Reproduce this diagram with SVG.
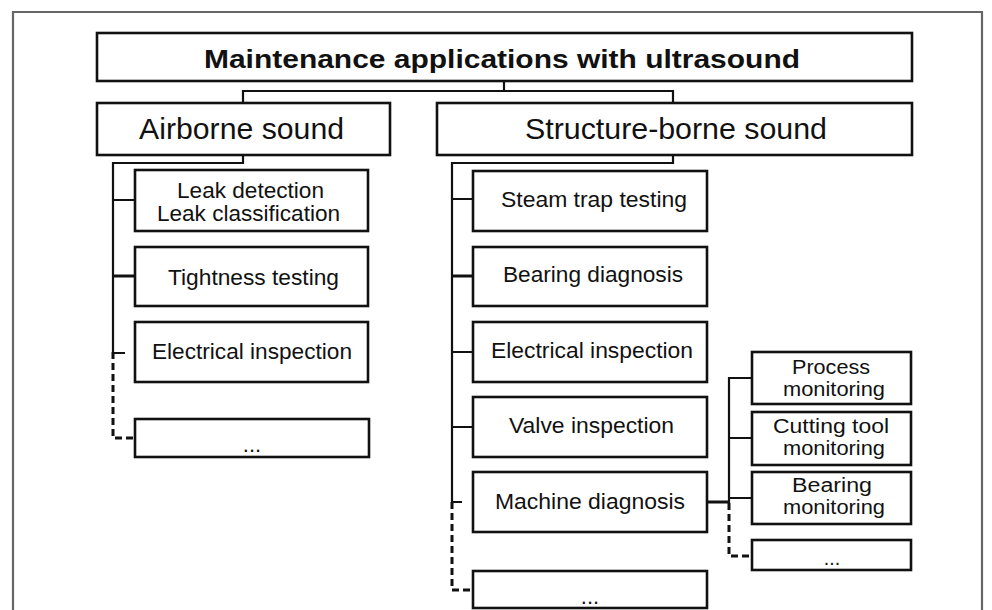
<svg xmlns="http://www.w3.org/2000/svg" width="992" height="610" viewBox="0 0 992 610">
<style>
.box{fill:#fff;stroke:#111;stroke-width:2.6}
.ln{fill:none;stroke:#111;stroke-width:2.2}
.thk{stroke-width:3}
.dash{fill:none;stroke:#111;stroke-width:3;stroke-dasharray:7,4}
text{font-family:"Liberation Sans",Arial,sans-serif;fill:#111;text-anchor:middle}
.t{font-size:22px}
.s{font-size:19.5px}
.h{font-size:29px}
.ttl{font-size:25px;font-weight:bold}
</style>
<rect width="992" height="610" fill="#fff"/>
<path d="M13,620 V12 H982 V620" fill="none" stroke="#666" stroke-width="2.2"/>
<g id="connectors">
<path class="ln" d="M504,81 V91 M243,103 V91 H673 V103"/>
<path class="ln" d="M243,155 V163 H113 V352"/>
<path class="ln" d="M113,200 H135 M113,353 H125"/>
<path class="ln thk" d="M113,276 H135"/>
<path class="dash" d="M113,352 V438 H135"/>
<path class="ln" d="M673,155 V163 H452 V502"/>
<path class="ln" d="M452,199 H473 M452,352 H473 M452,427 H473 M452,502 H462"/>
<path class="ln thk" d="M452,276 H473 M707,502 H729"/>
<path class="dash" d="M452,502 V590 H473"/>
<path class="ln" d="M729,503 V378 H752 M729,438 H752 M729,498 H752"/>
<path class="dash" d="M729,503 V556 H752"/>
</g>
<g id="title"><rect class="box" x="97" y="33" width="815" height="48"/><text class="ttl" x="502" y="68" textLength="596" lengthAdjust="spacingAndGlyphs">Maintenance applications with ultrasound</text></g>
<g id="airborne"><rect class="box" x="97" y="103" width="293" height="52"/><text class="h" x="241.5" y="139" textLength="205" lengthAdjust="spacingAndGlyphs">Airborne sound</text></g>
<g id="structure"><rect class="box" x="437" y="103" width="475" height="52"/><text class="h" x="676" y="139" textLength="302" lengthAdjust="spacingAndGlyphs">Structure-borne sound</text></g>
<g id="leak"><rect class="box" x="135" y="170" width="233" height="61"/><text class="t" x="250.5" y="198" textLength="147" lengthAdjust="spacingAndGlyphs">Leak detection</text><text class="t" x="248.5" y="221" textLength="183" lengthAdjust="spacingAndGlyphs">Leak classification</text></g>
<g id="tightness"><rect class="box" x="135" y="247" width="233" height="59"/><text class="t" x="253.5" y="285" textLength="171" lengthAdjust="spacingAndGlyphs">Tightness testing</text></g>
<g id="elec-air"><rect class="box" x="135" y="322" width="233" height="60"/><text class="t" x="252" y="359" textLength="200" lengthAdjust="spacingAndGlyphs">Electrical inspection</text></g>
<g id="more-air"><rect class="box" x="135" y="419" width="234" height="38"/><text class="t" x="252" y="452">...</text></g>
<g id="steam"><rect class="box" x="473" y="171" width="234" height="60"/><text class="t" x="594" y="207" textLength="186" lengthAdjust="spacingAndGlyphs">Steam trap testing</text></g>
<g id="bearing"><rect class="box" x="473" y="247" width="234" height="59"/><text class="t" x="593" y="282" textLength="180" lengthAdjust="spacingAndGlyphs">Bearing diagnosis</text></g>
<g id="elec-str"><rect class="box" x="473" y="322" width="234" height="60"/><text class="t" x="592" y="358" textLength="202" lengthAdjust="spacingAndGlyphs">Electrical inspection</text></g>
<g id="valve"><rect class="box" x="473" y="397" width="234" height="60"/><text class="t" x="591.5" y="433" textLength="165" lengthAdjust="spacingAndGlyphs">Valve inspection</text></g>
<g id="machine"><rect class="box" x="473" y="472" width="234" height="60"/><text class="t" x="590" y="509" textLength="190" lengthAdjust="spacingAndGlyphs">Machine diagnosis</text></g>
<g id="more-str"><rect class="box" x="473" y="571" width="234" height="37"/><text class="t" x="590" y="604">...</text></g>
<g id="process"><rect class="box" x="752" y="352" width="159" height="52"/><text class="s" x="831" y="374" textLength="78" lengthAdjust="spacingAndGlyphs">Process</text><text class="s" x="834" y="396" textLength="102" lengthAdjust="spacingAndGlyphs">monitoring</text></g>
<g id="cutting"><rect class="box" x="752" y="412" width="159" height="53"/><text class="s" x="831" y="433" textLength="116" lengthAdjust="spacingAndGlyphs">Cutting tool</text><text class="s" x="834" y="455" textLength="102" lengthAdjust="spacingAndGlyphs">monitoring</text></g>
<g id="bearing-mon"><rect class="box" x="752" y="472" width="159" height="52"/><text class="s" x="832" y="492" textLength="80" lengthAdjust="spacingAndGlyphs">Bearing</text><text class="s" x="834" y="514" textLength="102" lengthAdjust="spacingAndGlyphs">monitoring</text></g>
<g id="more-mon"><rect class="box" x="752" y="540" width="159" height="30"/><text class="s" x="832" y="565">...</text></g>
</svg>
